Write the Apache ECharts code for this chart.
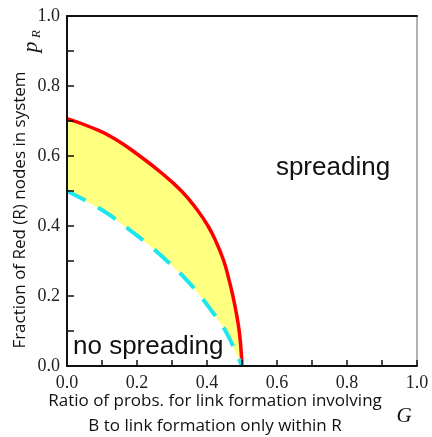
<!DOCTYPE html>
<html><head><meta charset="utf-8">
<script src="https://cdn.jsdelivr.net/npm/echarts@6/dist/echarts.min.js"></script>
<style>html,body{margin:0;padding:0;background:#fff}#c{width:432px;height:437px}</style>
</head><body><div id="c"></div>
<script>
const redX = [0, 0.074, 0.135, 0.208, 0.272, 0.327, 0.369, 0.403, 0.428, 0.448, 0.462, 0.474, 0.484, 0.492, 0.497, 0.5];
const redY = [0.707, 0.68, 0.65, 0.6, 0.55, 0.5, 0.45, 0.4, 0.35, 0.3, 0.25, 0.2, 0.15, 0.1, 0.05, 0];
const cyanX = [0, 0.074, 0.127, 0.184, 0.238, 0.289, 0.336, 0.377, 0.413, 0.446, 0.474, 0.5];
const cyanY = [0.5, 0.461, 0.428, 0.385, 0.342, 0.297, 0.252, 0.205, 0.158, 0.112, 0.058, 0];
const xTicks = [0, 0.2, 0.4, 0.6, 0.8, 1.0];
const yTicks = [0, 0.2, 0.4, 0.6, 0.8, 1.0];
const xTitle = ['Ratio of probs. for link formation involving', 'B to link formation only within R'];
const yTitle = 'Fraction of Red (R) nodes in system';

const zip = (a, b) => a.map((v, i) => [v, b[i]]);
const mk = ticks => v => (ticks.some(t => Math.abs(t - v) < 1e-6) ? v.toFixed(1) : '');
const serifLabel = {fontFamily: 'Liberation Serif', fontSize: 18, color: '#222'};
const chart = echarts.init(document.getElementById('c'));
chart.setOption({
  animation: false,
  grid: {left: 67, top: 16, right: 15, bottom: 71, show: true, borderColor: '#666', borderWidth: 1},
  xAxis: [{
    type: 'value', min: 0, max: 1, interval: 0.1, z: 10,
    axisLine: {lineStyle: {color: '#111', width: 2}},
    axisTick: {inside: true, length: 6, lineStyle: {color: '#111', width: 1.5}},
    axisLabel: Object.assign({formatter: mk(xTicks), margin: 8}, serifLabel),
    splitLine: {show: false}
  }, {
    type: 'value', position: 'top', min: 0, max: 1,
    axisLine: {show: true, lineStyle: {color: '#111', width: 2}},
    axisTick: {show: false}, axisLabel: {show: false}, splitLine: {show: false}
  }],
  yAxis: [{
    type: 'value', min: 0, max: 1, interval: 0.1, z: 10,
    axisLine: {show: true, lineStyle: {color: '#111', width: 2}},
    axisTick: {show: true, inside: true, length: 7, lineStyle: {color: '#111', width: 1.5}},
    axisLabel: Object.assign({formatter: mk(yTicks), margin: 7}, serifLabel),
    splitLine: {show: false}
  }],
  series: [{
    type: 'custom', silent: true, z: 1,
    data: [[0, 0]],
    renderItem: (params, api) => {
      const pts = [];
      for (let i = 0; i < redX.length; i++) pts.push(api.coord([redX[i], redY[i]]));
      for (let i = cyanX.length - 1; i >= 0; i--) pts.push(api.coord([cyanX[i], cyanY[i]]));
      return {type: 'polygon', shape: {points: pts}, style: {fill: '#ffff80', stroke: null}};
    }
  }, {
    type: 'line', data: zip(redX, redY), symbol: 'none', smooth: 0.5, z: 3,
    lineStyle: {color: '#ff0000', width: 3.5}
  }, {
    type: 'line', data: zip(cyanX, cyanY), symbol: 'none', smooth: 0.5, z: 3,
    lineStyle: {color: '#1ee6ef', width: 4, type: [21, 14]}
  }],
  graphic: [
    {type: 'text', x: 215, y: 401, style: {text: xTitle[0], font: '17px "Open Sans"', fill: '#111', align: 'center', verticalAlign: 'middle'}},
    {type: 'text', x: 215, y: 426, style: {text: xTitle[1], font: '17px "Open Sans"', fill: '#111', align: 'center', verticalAlign: 'middle'}},
    {type: 'text', x: 404, y: 416, style: {text: 'G', font: 'italic 21px "Liberation Serif"', fill: '#111', align: 'center', verticalAlign: 'middle'}},
    {type: 'text', x: 20, y: 210, rotation: Math.PI / 2, style: {text: yTitle, font: '17px "Open Sans"', fill: '#111', align: 'center', verticalAlign: 'middle'}},
    {type: 'group', x: 31, y: 43, rotation: Math.PI / 2, children: [
      {type: 'text', x: -4, y: 0, style: {text: 'p', font: 'italic 22px "Liberation Serif"', fill: '#111', align: 'center', verticalAlign: 'middle'}},
      {type: 'text', x: 9, y: 6, style: {text: 'R', font: 'italic 13px "Liberation Serif"', fill: '#111', align: 'center', verticalAlign: 'middle'}}
    ]},
    {type: 'text', x: 333, y: 168, style: {text: 'spreading', font: '26px "Liberation Sans"', fill: '#111', align: 'center', verticalAlign: 'middle'}},
    {type: 'text', x: 73, y: 347, style: {text: 'no spreading', font: '26px "Liberation Sans"', fill: '#111', align: 'left', verticalAlign: 'middle'}}
  ]
});
</script></body></html>
